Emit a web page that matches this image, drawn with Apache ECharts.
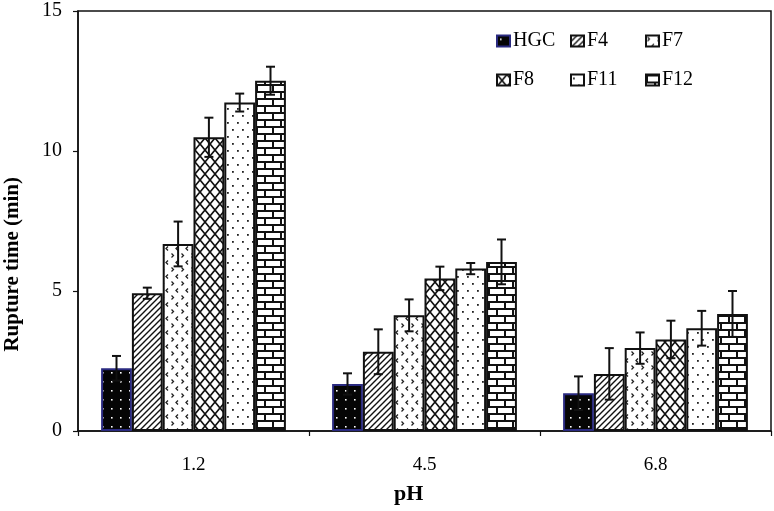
<!DOCTYPE html>
<html><head><meta charset="utf-8">
<script src="https://cdn.jsdelivr.net/npm/echarts@6/dist/echarts.min.js"></script>
<style>html,body{margin:0;padding:0;background:#fff}#c{width:774px;height:511px}</style>
</head><body><div id="c"></div>
<script>
const categories = ['1.2', '4.5', '6.8'];
const seriesNames = ['HGC', 'F4', 'F7', 'F8', 'F11', 'F12'];
const HGC = [2.24, 1.68, 1.35];
const F4 = [4.92, 2.83, 2.04];
const F7 = [6.68, 4.13, 2.96];
const F8 = [10.49, 5.45, 3.27];
const F11 = [11.73, 5.80, 3.67];
const F12 = [12.51, 6.04, 4.18];
const errHGC = [0.44, 0.38, 0.60];
const errF4 = [0.20, 0.80, 0.92];
const errF7 = [0.80, 0.57, 0.56];
const errF8 = [0.70, 0.42, 0.67];
const errF11 = [0.32, 0.20, 0.62];
const errF12 = [0.50, 0.80, 0.82];
const yTicks = [0, 5, 10, 15];

const values = [HGC, F4, F7, F8, F11, F12];
const errors = [errHGC, errF4, errF7, errF8, errF11, errF12];

function pat(w, h, draw) {
  const c = document.createElement('canvas');
  c.width = w; c.height = h;
  const ctx = c.getContext('2d');
  draw(ctx, w, h);
  return { image: c, repeat: 'repeat' };
}
const patterns = [
  pat(9, 9, (ctx) => { ctx.fillStyle = '#050505'; ctx.fillRect(0, 0, 9, 9); ctx.fillStyle = '#fff'; ctx.fillRect(3, 3, 1.6, 1.6); }),
  pat(6, 6, (ctx) => { ctx.fillStyle = '#fff'; ctx.fillRect(0, 0, 6, 6); ctx.strokeStyle = '#111'; ctx.lineWidth = 1.4;
    ctx.beginPath(); ctx.moveTo(-1, 7); ctx.lineTo(7, -1); ctx.moveTo(-2, 2); ctx.lineTo(2, -2); ctx.moveTo(4, 8); ctx.lineTo(8, 4); ctx.stroke(); }),
  pat(10, 14, (ctx) => { ctx.fillStyle = '#fff'; ctx.fillRect(0, 0, 10, 14); ctx.strokeStyle = '#222'; ctx.lineWidth = 1.3;
    ctx.beginPath(); ctx.moveTo(1.5, 1.5); ctx.lineTo(3.5, 3.5); ctx.lineTo(1.5, 5.5); ctx.stroke();
    ctx.beginPath(); ctx.moveTo(8, 8.5); ctx.lineTo(6, 10.5); ctx.lineTo(8, 12.5); ctx.stroke(); }),
  pat(10, 12, (ctx) => { ctx.fillStyle = '#fff'; ctx.fillRect(0, 0, 10, 12); ctx.strokeStyle = '#111'; ctx.lineWidth = 1.7;
    ctx.beginPath(); ctx.moveTo(0, 0); ctx.lineTo(10, 12); ctx.moveTo(10, 0); ctx.lineTo(0, 12); ctx.stroke(); }),
  pat(10, 14, (ctx) => { ctx.fillStyle = '#fff'; ctx.fillRect(0, 0, 10, 14); ctx.fillStyle = '#222';
    ctx.fillRect(2, 3, 1.8, 1.8); ctx.fillRect(7, 10, 1.8, 1.8); }),
  pat(16, 14, (ctx) => { ctx.fillStyle = '#fff'; ctx.fillRect(0, 0, 16, 14); ctx.fillStyle = '#111';
    ctx.fillRect(0, 0, 16, 2); ctx.fillRect(0, 7, 16, 2); ctx.fillRect(0, 0, 2, 7); ctx.fillRect(8, 7, 2, 7); })
];

const FONT = 'Liberation Serif';
const barSeries = seriesNames.map((n, i) => ({
  name: n, type: 'bar', data: values[i],
  barGap: '0%', barCategoryGap: '20%',
  itemStyle: { color: patterns[i], borderColor: i === 0 ? '#2a2a80' : '#111', borderWidth: 2 },
  emphasis: { disabled: true }
}));

const errData = [];
seriesNames.forEach((n, si) => categories.forEach((c, ci) => {
  errData.push([ci, si, values[si][ci], errors[si][ci]]);
}));

const errSeries = {
  type: 'custom', z: 10, silent: true,
  data: errData,
  encode: { x: 0, y: 2 },
  renderItem: function (params, api) {
    const ci = api.value(0), si = api.value(1), v = api.value(2), e = api.value(3);
    const catW = api.size([1, 0])[0];
    const total = catW * 0.8;
    const bw = total / 6;
    const cx = api.coord([ci, 0])[0] - total / 2 + (si + 0.5) * bw;
    const yt = api.coord([ci, v + e])[1];
    const yb = api.coord([ci, v - e])[1];
    const cap = 4.5;
    const st = { stroke: '#111', lineWidth: 2 };
    return { type: 'group', children: [
      { type: 'line', shape: { x1: cx, y1: yt, x2: cx, y2: yb }, style: st },
      { type: 'line', shape: { x1: cx - cap, y1: yt, x2: cx + cap, y2: yt }, style: st },
      { type: 'line', shape: { x1: cx - cap, y1: yb, x2: cx + cap, y2: yb }, style: st }
    ] };
  }
};

const legendPos = [[496, 31], [570, 31], [645, 31], [496, 70], [570, 70], [645, 70]];
const legends = seriesNames.map((n, i) => ({
  data: [n], left: legendPos[i][0], top: legendPos[i][1], padding: 0,
  itemWidth: 13, itemHeight: 11, itemGap: 4, selectedMode: false,
  icon: 'rect',
  textStyle: { fontFamily: FONT, fontSize: 20, color: '#000', padding: [0, 0, 0, -2] }
}));

const chart = echarts.init(document.getElementById('c'), null, { renderer: 'canvas' });
chart.setOption({
  animation: false,
  backgroundColor: '#fff',
  grid: { left: 78, top: 11, right: 3, bottom: 80, show: true, borderColor: '#111', borderWidth: 1.5 },
  legend: legends,
  xAxis: {
    type: 'category', data: categories,
    axisLine: { lineStyle: { color: '#111', width: 1.5 } },
    axisTick: { show: true, length: 5, lineStyle: { color: '#111', width: 1.2 } },
    axisLabel: { fontFamily: FONT, fontSize: 19, color: '#000', margin: 25 }
  },
  yAxis: {
    type: 'value', min: 0, max: 15, interval: 5,
    axisLine: { show: true, lineStyle: { color: '#111', width: 1.5 } },
    axisTick: { show: true, length: 5, lineStyle: { color: '#111', width: 1.2 } },
    splitLine: { show: false },
    axisLabel: { fontFamily: FONT, fontSize: 20, color: '#000', margin: 16,
      formatter: v => (yTicks.indexOf(v) >= 0 ? String(v) : '') }
  },
  graphic: [
    { type: 'text', left: 2, top: 177, rotation: Math.PI / 2,
      style: { text: 'Rupture time (min)', font: 'bold 21px "Liberation Serif"', fill: '#000' } },
    { type: 'text', left: 394, top: 483,
      style: { text: 'pH', font: 'bold 22px "Liberation Serif"', fill: '#000' } }
  ],
  series: barSeries.concat([errSeries])
});
</script></body></html>
